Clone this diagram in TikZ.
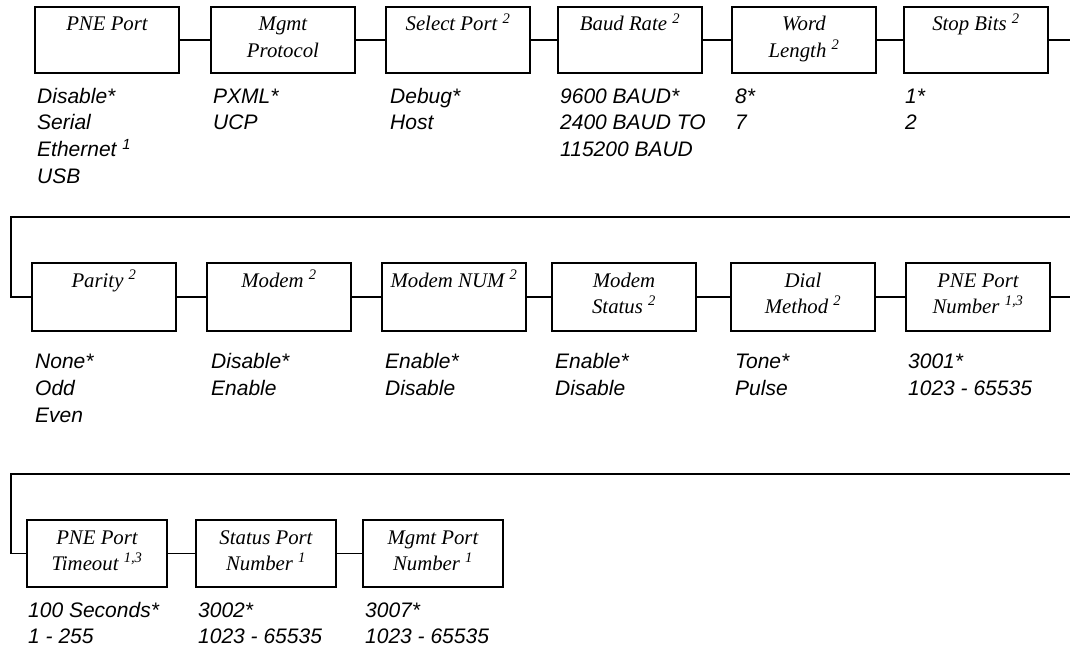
\documentclass[tikz,border=0pt]{standalone}
\usepackage{fontspec}
\setmainfont{Liberation Serif}
\setsansfont{Liberation Sans}
\newcommand\mybt[1]{\begin{tabular}[t]{@{}c@{}}#1\end{tabular}}
\newcommand\myot[1]{\begin{tabular}[t]{@{}l@{}}#1\end{tabular}}
\tikzset{
  menubox/.style={draw, line width=1.8pt, rectangle, minimum width=144pt, minimum height=66pt, inner sep=0pt, outer sep=0pt, anchor=north west},
  menuboxs/.style={menubox, minimum width=140pt, minimum height=67pt},
  btext/.style={font=\fontsize{20.8}{26.5}\selectfont\itshape, inner sep=0pt, anchor=base},
  otext/.style={font=\sffamily\fontsize{21}{27}\selectfont\itshape, inner sep=0pt, anchor=base west},
  conn/.style={line width=1.5pt}
}
\begin{document}
\begin{tikzpicture}[x=1pt,y=-1pt]
\path[use as bounding box] (0,0) rectangle (1070,650);
% Row 1
\node[menubox] (b1) at (35,7) {};
\node[menubox] (b2) at (211,7) {};
\node[menubox] (b3) at (386,7) {};
\node[menubox] (b4) at (558,7) {};
\node[menubox] (b5) at (732,7) {};
\node[menubox] (b6) at (904,7) {};
\node[btext] (t1) at ([yshift=-24pt]b1.north) {\mybt{PNE Port}};
\node[btext] (t2) at ([yshift=-24pt]b2.north) {\mybt{Mgmt\\Protocol}};
\node[btext] (t3) at ([yshift=-24pt]b3.north) {\mybt{Select Port \textsuperscript{2}}};
\node[btext] (t4) at ([yshift=-24pt]b4.north) {\mybt{Baud Rate \textsuperscript{2}}};
\node[btext] (t5) at ([yshift=-24pt]b5.north) {\mybt{Word\\Length \textsuperscript{2}}};
\node[btext] (t6) at ([yshift=-24pt]b6.north) {\mybt{Stop Bits \textsuperscript{2}}};
\node[otext] (o1) at (37,103) {\myot{Disable*\\Serial\\Ethernet \textsuperscript{1}\\USB}};
\node[otext] (o2) at (213,103) {\myot{PXML*\\UCP}};
\node[otext] (o3) at (390,103) {\myot{Debug*\\Host}};
\node[otext] (o4) at (560,103) {\myot{9600 BAUD*\\2400 BAUD TO\\115200 BAUD}};
\node[otext] (o5) at (735,103) {\myot{8*\\7}};
\node[otext] (o6) at (905,103) {\myot{1*\\2}};
\draw[conn] (b1.east) -- (b2.west);
\draw[conn] (b2.east) -- (b3.west);
\draw[conn] (b3.east) -- (b4.west);
\draw[conn] (b4.east) -- (b5.west);
\draw[conn] (b5.east) -- (b6.west);
\coordinate (r1) at (1070,40);
\draw[conn] (b6.east) -- (b6.east -| r1);
% Row 2
\node[menubox, minimum height=68pt] (b7) at (32,263) {};
\node[menubox, minimum height=68pt] (b8) at (207,263) {};
\node[menubox, minimum height=68pt] (b9) at (382,263) {};
\node[menubox, minimum height=68pt] (b10) at (552,263) {};
\node[menubox, minimum height=68pt] (b11) at (731,263) {};
\node[menubox, minimum height=68pt] (b12) at (906,263) {};
\node[btext] (t7) at ([yshift=-24pt]b7.north) {\mybt{Parity \textsuperscript{2}}};
\node[btext] (t8) at ([yshift=-24pt]b8.north) {\mybt{Modem \textsuperscript{2}}};
\node[btext] (t9) at ([yshift=-24pt]b9.north) {\mybt{Modem NUM \textsuperscript{2}}};
\node[btext] (t10) at ([yshift=-24pt]b10.north) {\mybt{Modem\\Status \textsuperscript{2}}};
\node[btext] (t11) at ([yshift=-24pt]b11.north) {\mybt{Dial\\Method \textsuperscript{2}}};
\node[btext] (t12) at ([yshift=-24pt]b12.north) {\mybt{PNE Port\\Number \textsuperscript{1,3}}};
\node[otext] (o7) at (35,368) {\myot{None*\\Odd\\Even}};
\node[otext] (o8) at (211,368) {\myot{Disable*\\Enable}};
\node[otext] (o9) at (385,368) {\myot{Enable*\\Disable}};
\node[otext] (o10) at (555,368) {\myot{Enable*\\Disable}};
\node[otext] (o11) at (735,368) {\myot{Tone*\\Pulse}};
\node[otext] (o12) at (908,368) {\myot{3001*\\1023 - 65535}};
\coordinate (r2a) at (1070,217);
\coordinate (r2b) at (11,217);
\draw[conn] (r2a) -- (r2b) |- (b7.west);
\draw[conn] (b7.east) -- (b8.west);
\draw[conn] (b8.east) -- (b9.west);
\draw[conn] (b9.east) -- (b10.west);
\draw[conn] (b10.east) -- (b11.west);
\draw[conn] (b11.east) -- (b12.west);
\coordinate (r2) at (1070,297);
\draw[conn] (b12.east) -- (b12.east -| r2);
% Row 3
\node[menuboxs] (b13) at (27,520) {};
\node[menuboxs] (b14) at (196,520) {};
\node[menuboxs] (b15) at (363,520) {};
\node[btext] (t13) at ([yshift=-24pt]b13.north) {\mybt{PNE Port\\Timeout \textsuperscript{1,3}}};
\node[btext] (t14) at ([yshift=-24pt]b14.north) {\mybt{Status Port\\Number \textsuperscript{1}}};
\node[btext] (t15) at ([yshift=-24pt]b15.north) {\mybt{Mgmt Port\\Number \textsuperscript{1}}};
\node[otext, font=\sffamily\fontsize{21}{26.5}\selectfont\itshape] (o13) at (28,617) {\myot{100 Seconds*\\1 - 255}};
\node[otext, font=\sffamily\fontsize{21}{26.5}\selectfont\itshape] (o14) at (198,617) {\myot{3002*\\1023 - 65535}};
\node[otext, font=\sffamily\fontsize{21}{26.5}\selectfont\itshape] (o15) at (365,617) {\myot{3007*\\1023 - 65535}};
\coordinate (r3a) at (1070,474);
\coordinate (r3b) at (11,474);
\draw[conn] (r3a) -- (r3b) |- (b13.west);
\draw[conn] (b13.east) -- (b14.west);
\draw[conn] (b14.east) -- (b15.west);
\end{tikzpicture}
\end{document}
